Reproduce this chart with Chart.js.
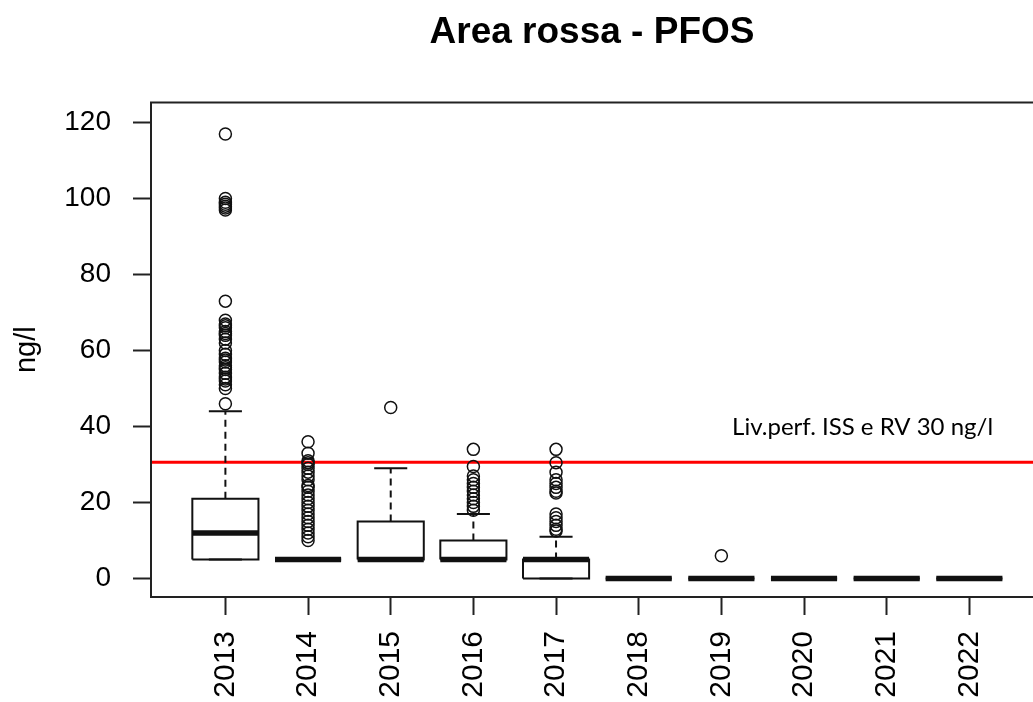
<!DOCTYPE html>
<html>
<head>
<meta charset="utf-8">
<title>Area rossa - PFOS</title>
<script src="https://cdn.jsdelivr.net/npm/chart.js@4"></script>
<style>
  html, body { margin: 0; padding: 0; background: #fff; overflow: hidden; }
  #wrap { width: 1033px; height: 702px; }
</style>
</head>
<body>
<div id="wrap"><canvas id="grafico" width="1033" height="702"></canvas></div>
<script>
// dati (ng/l)
const anni = ["2013", "2014", "2015", "2016", "2017", "2018", "2019", "2020", "2021", "2022"];
const q1 = [5, 5, 5, 5, 0, 0, 0, 0, 0, 0];
const mediana = [12, 5, 5, 5, 5, 0, 0, 0, 0, 0];
const q3 = [21, 5, 15, 10, 5, 0, 0, 0, 0, 0];
const baffoInf = [5, 5, 5, 5, 0, 0, 0, 0, 0, 0];
const baffoSup = [44, 5, 29, 17, 11, 0, 0, 0, 0, 0];
const outlier2013 = [117, 100, 99, 98.5, 98, 97.5, 97, 73, 68, 67, 66.5, 66, 65, 64.5, 64, 63, 62, 60, 59, 58, 57.5, 57, 56, 55.5, 55, 54, 53, 52.5, 52, 51, 50, 46];
const outlier2014 = [36, 33, 31, 30.5, 30, 29, 28, 27, 26, 24.5, 24, 23, 22, 21, 20, 19, 18, 17, 16, 15, 14, 13, 12, 11, 10];
const outlier2015 = [45];
const outlier2016 = [34, 29.5, 27, 26, 25, 24, 23, 22, 21, 20, 19, 18];
const outlier2017 = [34, 30.5, 28, 26, 25, 24, 23, 22.5, 17, 16, 15, 14, 13, 12.5];
const outlier2019 = [6];
const outliers = [outlier2013, outlier2014, outlier2015, outlier2016, outlier2017, [], outlier2019, [], [], []];
const soglia = 30.6;
const etichettaSoglia = "Liv.perf. ISS e RV 30 ng/l";
const tickY = [0, 20, 40, 60, 80, 100, 120];

const X_MIN = 0.1, X_MAX = 10.77;
const MEZZA = 0.4;     // mezza larghezza scatola
const STAFFA = 0.2;    // mezza larghezza staffa baffi
const FONT = '"Liberation Sans", Arial, sans-serif';

const gap = x => ({ x: x, y: null });

function puntiScatole() {
    const pts = [];
    anni.forEach((a, i) => {
        const x = i + 1;
        pts.push({ x: x - MEZZA, y: q1[i] }, { x: x + MEZZA, y: q1[i] },
                 { x: x + MEZZA, y: q3[i] }, { x: x - MEZZA, y: q3[i] },
                 { x: x - MEZZA, y: q1[i] }, gap(x));
    });
    return pts;
}

function puntiBaffi() {
    const pts = [];
    anni.forEach((a, i) => {
        const x = i + 1;
        if (baffoSup[i] > q3[i]) pts.push({ x: x, y: q3[i] }, { x: x, y: baffoSup[i] }, gap(x));
        if (baffoInf[i] < q1[i]) pts.push({ x: x, y: q1[i] }, { x: x, y: baffoInf[i] }, gap(x));
    });
    return pts;
}

function puntiStaffe() {
    const pts = [];
    anni.forEach((a, i) => {
        const x = i + 1;
        pts.push({ x: x - STAFFA, y: baffoSup[i] }, { x: x + STAFFA, y: baffoSup[i] }, gap(x));
        pts.push({ x: x - STAFFA, y: baffoInf[i] }, { x: x + STAFFA, y: baffoInf[i] }, gap(x));
    });
    return pts;
}

function puntiMediane() {
    const pts = [];
    anni.forEach((a, i) => {
        const x = i + 1;
        pts.push({ x: x - MEZZA, y: mediana[i] }, { x: x + MEZZA, y: mediana[i] }, gap(x));
    });
    return pts;
}

function puntiOutlier() {
    const pts = [];
    outliers.forEach((lista, i) => {
        lista.forEach(v => pts.push({ x: i + 1, y: v }));
    });
    return pts;
}

const linea = (data, extra) => Object.assign({
    data: data,
    showLine: true,
    borderColor: "#111",
    borderWidth: 2,
    pointRadius: 0,
    spanGaps: false,
    tension: 0,
    order: 1
}, extra);

// cornice e testo soglia
const cornice = {
    id: "cornice",
    afterDatasetsDraw(chart) {
        const { ctx, chartArea: a, scales } = chart;
        ctx.save();
        ctx.strokeStyle = "#222";
        ctx.lineWidth = 2;
        ctx.beginPath();
        ctx.moveTo(a.right + 2, a.top);
        ctx.lineTo(a.left, a.top);
        ctx.lineTo(a.left, a.bottom);
        ctx.lineTo(a.right + 2, a.bottom);
        ctx.stroke();
        ctx.font = '24px Lato, "Open Sans", sans-serif';
        ctx.fillStyle = "#000";
        ctx.textBaseline = "middle";
        ctx.textAlign = "left";
        ctx.fillText(etichettaSoglia, scales.x.getPixelForValue(7.13), scales.y.getPixelForValue(39.8));
        ctx.restore();
    }
};

new Chart(document.getElementById("grafico"), {
    type: "scatter",
    data: {
        datasets: [
            linea([{ x: X_MIN, y: soglia }, { x: X_MAX, y: soglia }], { borderColor: "#ff0000", borderWidth: 3, order: 10 }),
            linea(puntiScatole()),
            linea(puntiBaffi(), { borderDash: [7, 5] }),
            linea(puntiStaffe()),
            linea(puntiMediane(), { borderWidth: 5.5, borderCapStyle: "butt" }),
            {
                data: puntiOutlier(),
                showLine: false,
                pointRadius: 6,
                pointBorderWidth: 1.5,
                pointBorderColor: "#111",
                pointBackgroundColor: "rgba(0,0,0,0)",
                order: 0
            }
        ]
    },
    options: {
        responsive: false,
        animation: false,
        events: [],
        layout: { padding: 0, autoPadding: false },
        plugins: {
            legend: { display: false },
            tooltip: { enabled: false },
            title: {
                display: true,
                text: "Area rossa - PFOS",
                fullSize: false,
                color: "#000",
                font: { family: FONT, size: 37, weight: "bold" },
                padding: { top: 11, bottom: 47 }
            }
        },
        scales: {
            x: {
                type: "linear",
                min: X_MIN,
                max: X_MAX,
                border: { display: false },
                grid: { drawOnChartArea: false, drawTicks: true, tickLength: 18, tickColor: "#222", tickWidth: 2 },
                ticks: {
                    autoSkip: false,
                    minRotation: 90,
                    maxRotation: 90,
                    padding: 16,
                    color: "#000",
                    font: { family: FONT, size: 30 },
                    callback: v => anni[v - 1]
                },
                afterBuildTicks: s => { s.ticks = anni.map((a, i) => ({ value: i + 1 })); },
                afterFit: s => { s.height = 105; s.paddingLeft = 0; s.paddingRight = 0; }
            },
            y: {
                min: -4.85,
                max: 125.3,
                border: { display: false },
                grid: { drawOnChartArea: false, drawTicks: true, tickLength: 18, tickColor: "#222", tickWidth: 2 },
                ticks: {
                    padding: 22,
                    color: "#000",
                    font: { family: FONT, size: 28 }
                },
                title: {
                    display: true,
                    text: "ng/l",
                    color: "#000",
                    font: { family: FONT, size: 29 },
                    padding: { top: 10, bottom: 0 }
                },
                afterBuildTicks: s => { s.ticks = tickY.map(v => ({ value: v })); },
                afterFit: s => { s.width = 151; s.paddingTop = 0; s.paddingBottom = 0; }
            }
        }
    },
    plugins: [cornice]
});
</script>
</body>
</html>
